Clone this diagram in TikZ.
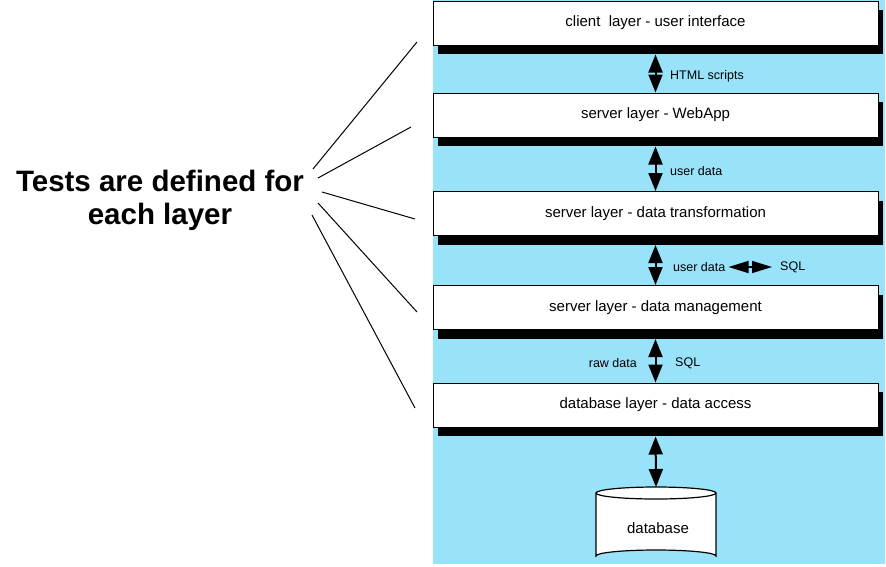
\documentclass[tikz,border=0pt]{standalone}
\usepackage{fontspec}
\setmainfont{Liberation Sans}
\usetikzlibrary{arrows.meta, positioning, calc, shadows}
\definecolor{layerblue}{RGB}{153,227,250}
\tikzset{
  layerbox/.style={draw=black, line width=1pt, fill=white, minimum width=445pt, minimum height=44pt,
    font=\fontsize{15}{17}\selectfont, drop shadow={shadow xshift=5pt, shadow yshift=-9pt, fill=black, opacity=1}},
  small/.style={font=\fontsize{12.5}{14}\selectfont, inner sep=0pt, anchor=west},
  fatarrow/.style={line width=2pt, {Triangle[length=18pt,width=14pt]}-{Triangle[length=18pt,width=14pt]}},
  sidearrow/.style={line width=1.5pt, {Triangle[length=20pt,width=12pt]}-{Triangle[length=20pt,width=12pt]}},
  fanline/.style={line width=1pt}
}
\begin{document}
\begin{tikzpicture}[x=1pt, y=-1pt]
\useasboundingbox (0,0) rectangle (886,566);
\fill[layerblue] (433,0) rectangle (885,564);

% layers
\node[layerbox] (client) at (655.5,23) {client\ \ layer - user interface};
\node[layerbox] (webapp) at (655.5,115) {server layer - WebApp};
\node[layerbox] (trans) at (655.5,213.5) {server layer - data transformation};
\node[layerbox] (manage) at (655.5,307.5) {server layer - data management};
\node[layerbox] (access) at (655.5,405) {database layer - data access};

% database
\filldraw[fill=white, line width=1.2pt] (596,493) -- (596,556) arc[start angle=180, end angle=360, x radius=60, y radius=6]
  -- (716,493) arc[start angle=0, end angle=-180, x radius=60, y radius=6] -- cycle;
\draw[line width=1.2pt] (596,493) arc[start angle=180, end angle=360, x radius=60, y radius=-6];
\coordinate (dbtop) at (656,487);
\node[font=\fontsize{15}{17}\selectfont] (db) at (658,528) {database};

% connections
\draw[fatarrow, shorten <=9pt] (client.south) -- (webapp.north);
\draw[fatarrow, shorten <=9pt] (webapp.south) -- (trans.north);
\draw[fatarrow, shorten <=9pt] (trans.south) -- (manage.north);
\draw[fatarrow, shorten <=9pt] (manage.south) -- (access.north);
\draw[fatarrow, shorten <=9pt] (access.south) -- (dbtop);

\node[small] (html) at (670,76) {HTML scripts};
\node[small] (ud1) at (670,171) {user data};
\node[small] (ud2) at (673,267) {user data};
\node[small] (sql1) at (780,267) {SQL};
\node[small, anchor=east] (raw) at (637,363) {raw data};
\node[small] (sql2) at (675,363) {SQL};
\draw[sidearrow, shorten <=3pt, shorten >=8pt] (ud2.east) -- (sql1.west);

% tests
\node[font=\bfseries\fontsize{29.5}{33}\selectfont, align=center] (tests) at (160,200) {Tests are defined for\\each layer};
\foreach \n/\sx/\sy/\ex/\ey in {1/313/169/417/42, 2/318/178/411/127, 3/322/192/415/219, 4/318/203/417/312, 5/312/215/415/408} {
  \coordinate (s\n) at (\sx,\sy);
  \coordinate (e\n) at (\ex,\ey);
  \draw[fanline] (s\n) -- (e\n);
}
\end{tikzpicture}
\end{document}
